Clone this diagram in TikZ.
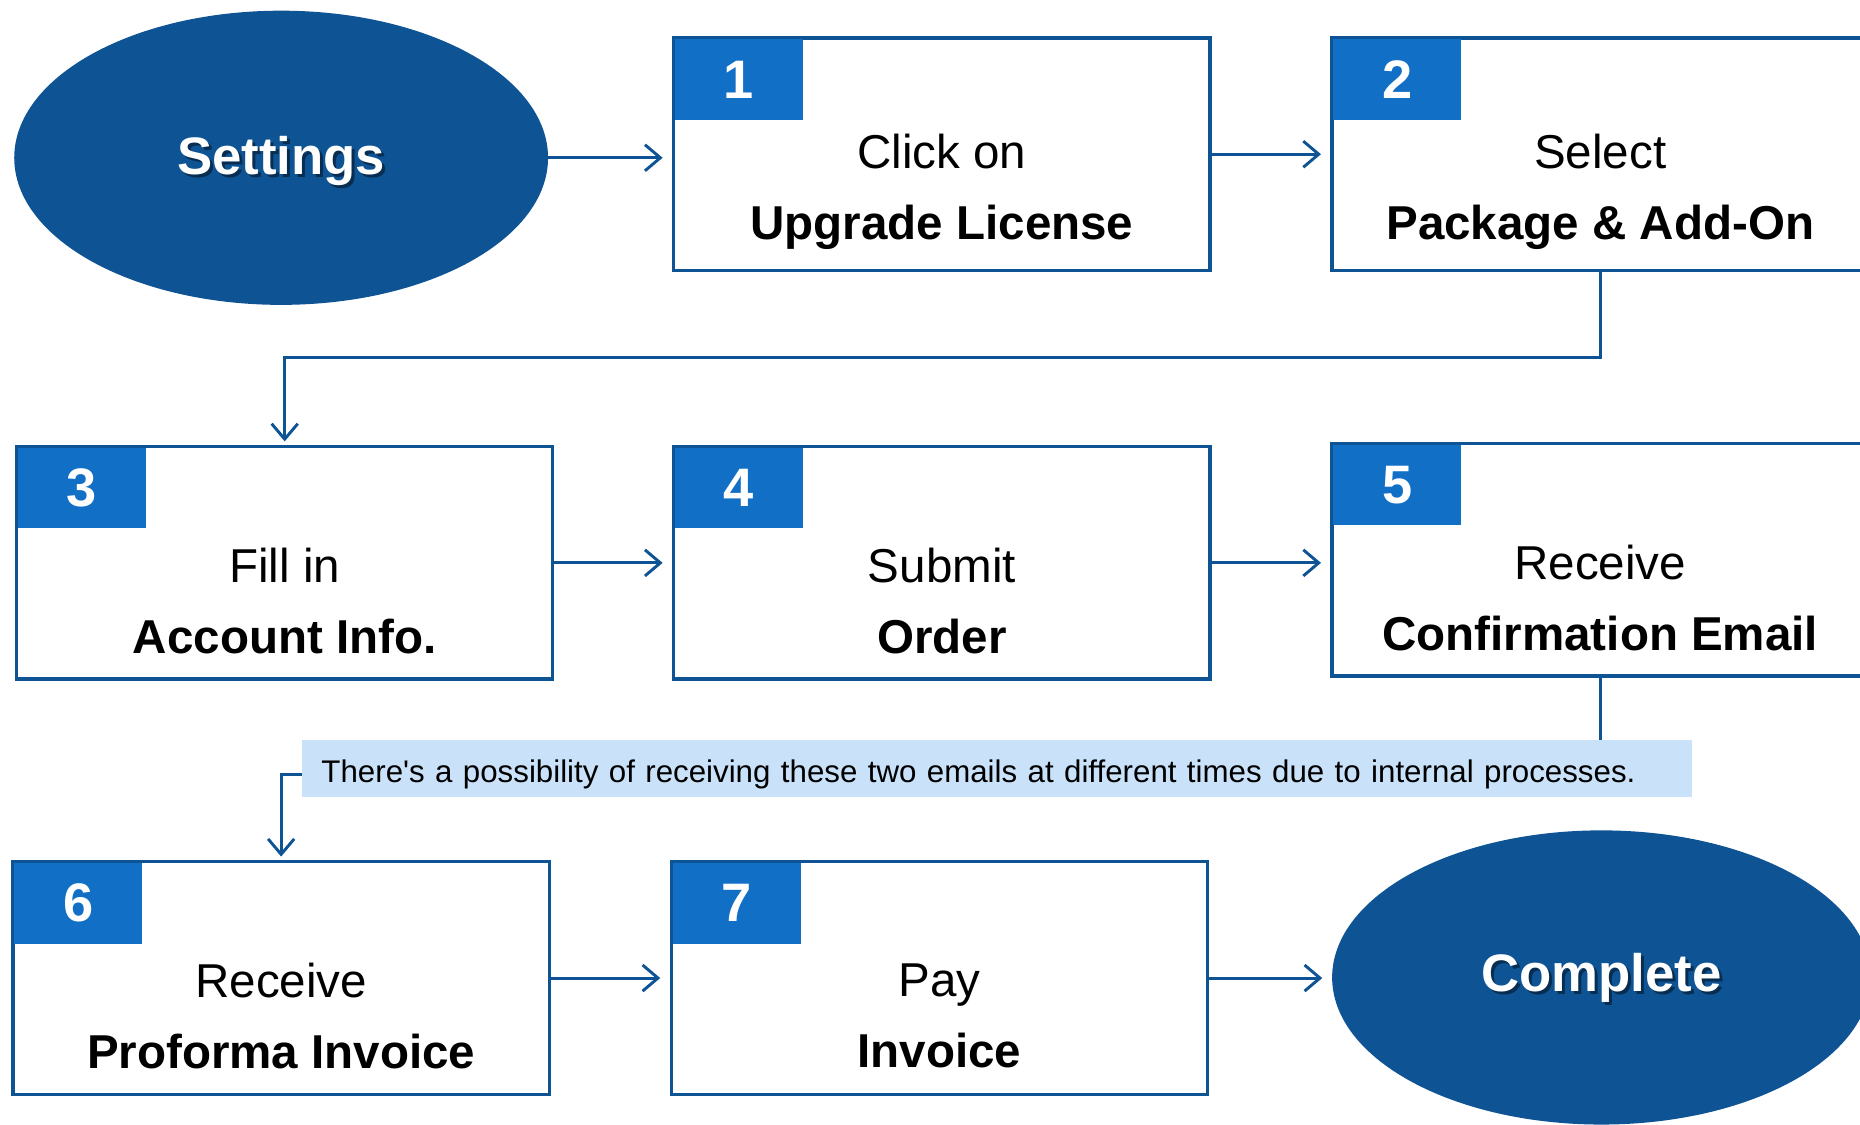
\documentclass[tikz,border=0pt]{standalone}
\usepackage{fontspec}
\setmainfont{Liberation Sans}
\newfontfamily\notefont{Liberation Sans}
\usepackage{tikz}
\usetikzlibrary{arrows.meta,calc,shapes.geometric}
\definecolor{darkblue}{RGB}{14,83,147}
\definecolor{badgeblue}{RGB}{17,111,198}
\definecolor{noteblue}{RGB}{201,226,249}

\tikzset{
	stepbox/.style = {draw=darkblue, line width=1.6pt, fill=white, minimum width=9.04cm, minimum height=3.92cm, inner sep=0pt},
	badge/.style = {fill=badgeblue, text=white, minimum width=2.16cm, minimum height=1.36cm, inner sep=0pt, anchor=north west, font=\fontsize{26}{26}\selectfont\bfseries},
	steptext/.style = {align=center, font=\fontsize{22.8}{34}\selectfont},
	terminal/.style = {ellipse, fill=darkblue, minimum width=9cm, minimum height=4.96cm, inner sep=0pt},
	terminaltext/.style = {text=white, font=\fontsize{25.3}{26}\selectfont\bfseries},
	flow/.style = {draw=darkblue, line width=1.4pt, -{Straight Barb[length=2.6mm, width=4.4mm, line width=1.4pt]}, shorten >=0.16cm},
	plainline/.style = {draw=darkblue, line width=1.4pt},
}

\begin{document}
\begin{tikzpicture}
	\useasboundingbox (0,0) rectangle (31.36,-18.96);
	% start / end
	\node[terminal] (settings) at (4.74,-2.66) {};
	\node[terminaltext, text=black, opacity=.45] (settings-sh) at ([shift={(0.05,-0.1)}]settings) {Settings};
	\node[terminaltext] (settings-tx) at ([yshift=-0.05cm]settings) {Settings};
	\node[terminal, minimum width=9.08cm] (complete) at (27.00,-16.48) {};
	\node[terminaltext, text=black, opacity=.45] (complete-sh) at ([shift={(0.05,-0.05)}]complete) {Complete};
	\node[terminaltext] (complete-tx) at (complete) {Complete};

	% steps
	\node[stepbox] (b1) at (15.88,-2.60) {};
	\node[stepbox] (b2) at (26.98,-2.60) {};
	\node[stepbox] (b3) at (4.80,-9.49) {};
	\node[stepbox] (b4) at (15.88,-9.49) {};
	\node[stepbox] (b5) at (26.98,-9.44) {};
	\node[stepbox] (b6) at (4.74,-16.49) {};
	\node[stepbox] (b7) at (15.84,-16.49) {};
	\foreach \b in {1,...,7}
		\node[badge] (n\b) at ([shift={(0.04,-0.04)}]b\b.north west) {\b};

	\node[steptext] (t1) at ([yshift=-0.64cm]b1.center) {Click on\\\textbf{Upgrade License}};
	\node[steptext] (t2) at ([yshift=-0.64cm]b2.center) {Select\\\textbf{Package \& Add-On}};
	\node[steptext] (t3) at ([yshift=-0.64cm]b3.center) {Fill in\\\textbf{Account Info.}};
	\node[steptext] (t4) at ([yshift=-0.64cm]b4.center) {Submit\\\textbf{Order}};
	\node[steptext] (t5) at ([yshift=-0.64cm]b5.center) {Receive\\\textbf{Confirmation Email}};
	\node[steptext] (t6) at ([yshift=-0.64cm]b6.center) {Receive\\\textbf{Proforma Invoice}};
	\node[steptext] (t7) at ([yshift=-0.64cm]b7.center) {Pay\\\textbf{Invoice}};

	% note
	\node[fill=noteblue, text width=22.78cm, inner xsep=0.32cm, minimum height=0.96cm, inner ysep=0pt, align=left,
		text height=0.6cm, text depth=0.12cm, font=\notefont\fontsize{15}{18}\selectfont] (note) at (16.81,-12.96)
		{There's a possibility of receiving these two emails at different times due to internal processes.};

	% connectors
	\draw[flow] (settings.east) -- (settings.east -| b1.west);
	\draw[flow] (b1.east) -- (b2.west);
	\draw[flow, shorten >=0.06cm] (b2.south) -- ++(0,-1.44) -| (b3.north);
	\draw[flow] (b3.east) -- (b4.west);
	\draw[flow] (b4.east) -- (b4.east -| b5.west);
	\draw[plainline] (b5.south) -- (b5.south |- note.north);
	\draw[flow, shorten >=0.06cm] ([yshift=-0.1cm]note.west) -| (b6.north);
	\draw[flow] (b6.east) -- (b7.west);
	\draw[flow] (b7.east) -- (b7.east -| complete.west);
\end{tikzpicture}
\end{document}
